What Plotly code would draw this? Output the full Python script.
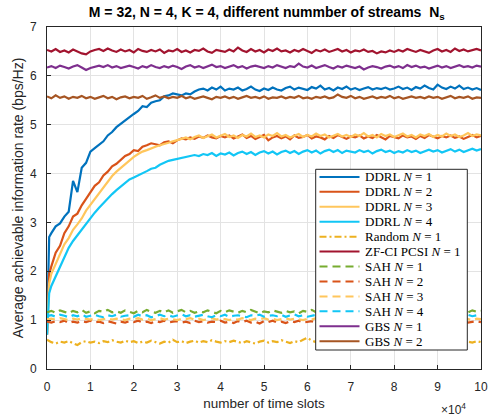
import plotly.graph_objects as go

# ---------------- data ----------------
x_flat = list(range(0, 100001, 1000))
x_ddrl = [0, 250, 500] + list(range(1000, 100001, 1000))

ddrl_n1 = [0.70, 1.90, 2.70,
           2.78, 2.92, 2.98, 3.12, 3.22, 3.85, 3.62, 4.12, 4.22, 4.45,
           4.52, 4.60, 4.66, 4.78, 4.85, 4.95, 5.02, 5.08, 5.15, 5.22,
           5.28, 5.38, 5.36, 5.45, 5.48, 5.50, 5.58, 5.60, 5.64, 5.62,
           5.60, 5.64, 5.62, 5.68, 5.72, 5.74, 5.70, 5.76, 5.72, 5.78,
           5.70, 5.74, 5.72, 5.76, 5.70, 5.73, 5.78, 5.72, 5.69, 5.74,
           5.71, 5.76, 5.72, 5.70, 5.75, 5.78, 5.72, 5.76, 5.73, 5.71,
           5.77, 5.74, 5.80, 5.72, 5.75, 5.70, 5.76, 5.73, 5.78, 5.72,
           5.75, 5.71, 5.74, 5.77, 5.72, 5.75, 5.73, 5.76, 5.72, 5.74,
           5.78, 5.73, 5.76, 5.71, 5.77, 5.74, 5.80, 5.75, 5.72, 5.82,
           5.76, 5.73, 5.78, 5.74, 5.80, 5.73, 5.76, 5.72, 5.75, 5.71]

ddrl_n2 = [0.70, 1.50, 1.95,
           2.10, 2.38, 2.52, 2.78, 2.92, 3.12, 3.18, 3.35, 3.48, 3.62,
           3.75, 3.82, 3.96, 4.04, 4.15, 4.20, 4.28, 4.36, 4.40, 4.48,
           4.46, 4.55, 4.58, 4.62, 4.60, 4.58, 4.64, 4.66, 4.62, 4.68,
           4.72, 4.70, 4.74, 4.71, 4.76, 4.73, 4.78, 4.74, 4.72, 4.77,
           4.74, 4.78, 4.72, 4.76, 4.80, 4.73, 4.77, 4.71, 4.75, 4.79,
           4.68, 4.74, 4.77, 4.72, 4.76, 4.70, 4.78, 4.73, 4.75, 4.79,
           4.72, 4.76, 4.74, 4.70, 4.77, 4.73, 4.79, 4.75, 4.71, 4.76,
           4.74, 4.78, 4.72, 4.76, 4.73, 4.79, 4.74, 4.70, 4.77, 4.75,
           4.72, 4.78, 4.74, 4.76, 4.71, 4.77, 4.73, 4.79, 4.75, 4.72,
           4.77, 4.74, 4.78, 4.73, 4.76, 4.71, 4.75, 4.79, 4.74, 4.77]

ddrl_n3 = [0.70, 1.40, 1.75,
           1.95, 2.15, 2.36, 2.55, 2.68, 2.85, 2.96, 3.08, 3.24, 3.36,
           3.48, 3.58, 3.72, 3.84, 3.95, 4.04, 4.12, 4.20, 4.28, 4.34,
           4.40, 4.45, 4.48, 4.52, 4.55, 4.58, 4.60, 4.63, 4.66, 4.68,
           4.71, 4.74, 4.70, 4.75, 4.78, 4.73, 4.76, 4.80, 4.74, 4.77,
           4.81, 4.75, 4.78, 4.73, 4.79, 4.76, 4.82, 4.75, 4.78, 4.74,
           4.80, 4.77, 4.83, 4.76, 4.79, 4.74, 4.78, 4.81, 4.75, 4.79,
           4.76, 4.82, 4.77, 4.80, 4.74, 4.78, 4.81, 4.76, 4.79, 4.75,
           4.80, 4.77, 4.83, 4.76, 4.79, 4.74, 4.81, 4.77, 4.80, 4.75,
           4.78, 4.82, 4.76, 4.79, 4.74, 4.80, 4.77, 4.81, 4.75, 4.79,
           4.76, 4.82, 4.77, 4.80, 4.75, 4.78, 4.83, 4.77, 4.80, 4.78]

ddrl_n4 = [0.70, 1.20, 1.55,
           1.70, 1.90, 2.10, 2.28, 2.48, 2.62, 2.74, 2.86, 2.98, 3.08,
           3.20, 3.30, 3.40, 3.50, 3.58, 3.66, 3.74, 3.80, 3.88, 3.92,
           3.96, 4.00, 4.05, 4.10, 4.12, 4.18, 4.22, 4.26, 4.28, 4.30,
           4.32, 4.34, 4.36, 4.38, 4.36, 4.40, 4.38, 4.42, 4.36, 4.41,
           4.39, 4.43, 4.37, 4.42, 4.45, 4.40, 4.44, 4.38, 4.43, 4.46,
           4.41, 4.45, 4.39, 4.44, 4.47, 4.42, 4.46, 4.40, 4.45, 4.48,
           4.43, 4.47, 4.41, 4.46, 4.49, 4.44, 4.48, 4.42, 4.47, 4.45,
           4.43, 4.48, 4.44, 4.47, 4.41, 4.46, 4.49, 4.44, 4.47, 4.42,
           4.46, 4.43, 4.48, 4.44, 4.47, 4.42, 4.46, 4.49, 4.45, 4.48,
           4.43, 4.47, 4.50, 4.45, 4.49, 4.44, 4.48, 4.51, 4.47, 4.50]

random_n1 = [0.60, 0.55, 0.52, 0.56, 0.54, 0.57, 0.53, 0.49, 0.55, 0.57,
             0.54, 0.56, 0.53, 0.57, 0.55, 0.59, 0.56, 0.54, 0.58, 0.55,
             0.57, 0.53, 0.56, 0.54, 0.58, 0.55, 0.52, 0.56, 0.54, 0.60,
             0.55, 0.57, 0.53, 0.56, 0.58, 0.54, 0.57, 0.55, 0.59, 0.56,
             0.54, 0.57, 0.55, 0.58, 0.56, 0.53, 0.57, 0.55, 0.52, 0.56,
             0.58, 0.54, 0.57, 0.55, 0.59, 0.56, 0.53, 0.57, 0.55, 0.60,
             0.64, 0.58, 0.55, 0.57, 0.54, 0.58, 0.56, 0.53, 0.57, 0.55,
             0.58, 0.54, 0.56, 0.59, 0.55, 0.57, 0.53, 0.56, 0.58, 0.55,
             0.57, 0.54, 0.56, 0.52, 0.57, 0.55, 0.58, 0.54, 0.56, 0.59,
             0.55, 0.57, 0.53, 0.56, 0.58, 0.55, 0.52, 0.56, 0.54, 0.57,
             0.55]

zfci_n1 = [6.53, 6.50, 6.55, 6.49, 6.52, 6.48, 6.54, 6.50, 6.46, 6.44,
           6.50, 6.53, 6.55, 6.51, 6.56, 6.52, 6.49, 6.54, 6.50, 6.53,
           6.48, 6.55, 6.51, 6.49, 6.53, 6.50, 6.54, 6.47, 6.52, 6.50,
           6.55, 6.49, 6.52, 6.48, 6.53, 6.51, 6.56, 6.50, 6.47, 6.53,
           6.51, 6.49, 6.54, 6.50, 6.58, 6.52, 6.49, 6.55, 6.50, 6.53,
           6.48, 6.54, 6.51, 6.56, 6.50, 6.52, 6.48, 6.53, 6.50, 6.55,
           6.51, 6.47, 6.53, 6.50, 6.54, 6.49, 6.52, 6.55, 6.50, 6.53,
           6.48, 6.52, 6.50, 6.54, 6.49, 6.51, 6.46, 6.50, 6.48, 6.52,
           6.49, 6.53, 6.50, 6.55, 6.52, 6.49, 6.53, 6.50, 6.47, 6.52,
           6.55, 6.50, 6.53, 6.49, 6.56, 6.51, 6.54, 6.50, 6.53, 6.55,
           6.52]

sah_n1 = [1.16, 1.19, 1.15, 1.20, 1.17, 1.14, 1.19, 1.16, 1.21, 1.15,
          1.18, 1.14, 1.19, 1.17, 1.21, 1.16, 1.18, 1.15, 1.20, 1.17,
          1.14, 1.19, 1.16, 1.21, 1.17, 1.15, 1.19, 1.16, 1.20, 1.15,
          1.18, 1.21, 1.16, 1.19, 1.15, 1.18, 1.16, 1.20, 1.17, 1.14,
          1.19, 1.16, 1.20, 1.17, 1.15, 1.19, 1.16, 1.21, 1.17, 1.14,
          1.18, 1.16, 1.20, 1.17, 1.15, 1.19, 1.16, 1.18, 1.14, 1.19,
          1.17, 1.21, 1.16, 1.18, 1.15, 1.19, 1.17, 1.20, 1.16, 1.14,
          1.18, 1.16, 1.20, 1.17, 1.15, 1.19, 1.16, 1.21, 1.17, 1.15,
          1.19, 1.16, 1.18, 1.14, 1.19, 1.17, 1.20, 1.16, 1.18, 1.15,
          1.19, 1.17, 1.21, 1.16, 1.18, 1.14, 1.19, 1.16, 1.20, 1.17,
          1.19]

sah_n2 = [0.97, 0.95, 0.98, 0.96, 0.99, 0.94, 0.97, 0.95, 0.98, 0.96,
          0.99, 0.95, 0.97, 0.94, 0.98, 0.96, 0.93, 0.97, 0.95, 0.98,
          0.96, 0.99, 0.95, 0.97, 0.94, 0.98, 0.96, 0.99, 0.95, 0.97,
          0.98, 0.95, 0.97, 0.94, 0.99, 0.96, 0.98, 0.95, 0.97, 0.96,
          0.99, 0.95, 0.97, 0.94, 0.98, 0.96, 0.99, 0.95, 0.97, 0.93,
          0.98, 0.96, 0.99, 0.95, 0.97, 0.94, 0.98, 0.96, 0.99, 0.95,
          0.97, 0.98, 0.95, 0.97, 0.94, 0.99, 0.96, 0.98, 0.95, 0.97,
          0.96, 0.99, 0.95, 0.97, 0.94, 0.98, 0.96, 0.99, 0.95, 0.97,
          0.98, 0.95, 0.97, 0.94, 0.99, 0.96, 0.98, 0.95, 0.97, 0.96,
          0.99, 0.95, 0.97, 0.94, 0.98, 0.96, 0.99, 0.95, 0.97, 0.98,
          0.96]

sah_n3 = [1.02, 1.03, 1.01, 1.04, 1.02, 1.00, 1.03, 1.01, 1.04, 1.02,
          1.01, 1.03, 1.00, 1.02, 1.04, 1.01, 1.03, 1.02, 1.00, 1.03,
          1.02, 1.04, 1.01, 1.03, 1.00, 1.02, 1.04, 1.01, 1.03, 1.02,
          1.00, 1.03, 1.02, 1.04, 1.01, 1.03, 1.00, 1.02, 1.04, 1.01,
          1.03, 1.02, 1.00, 1.03, 1.01, 1.04, 1.02, 1.00, 1.03, 1.02,
          1.04, 1.01, 1.03, 1.00, 1.02, 1.04, 1.01, 1.03, 1.02, 1.00,
          1.03, 1.01, 1.04, 1.02, 1.00, 1.03, 1.02, 1.04, 1.01, 1.03,
          1.00, 1.02, 1.04, 1.01, 1.03, 1.02, 1.00, 1.03, 1.01, 1.04,
          1.02, 1.00, 1.03, 1.02, 1.04, 1.01, 1.03, 1.00, 1.02, 1.04,
          1.01, 1.03, 1.02, 1.00, 1.03, 1.01, 1.04, 1.02, 1.00, 1.03,
          1.02]

sah_n4 = [1.08, 1.10, 1.07, 1.11, 1.09, 1.06, 1.10, 1.08, 1.12, 1.07,
          1.09, 1.11, 1.08, 1.06, 1.10, 1.08, 1.11, 1.07, 1.09, 1.10,
          1.07, 1.11, 1.08, 1.10, 1.06, 1.09, 1.11, 1.08, 1.10, 1.07,
          1.09, 1.12, 1.08, 1.10, 1.07, 1.09, 1.11, 1.08, 1.06, 1.10,
          1.08, 1.11, 1.07, 1.09, 1.10, 1.08, 1.06, 1.10, 1.09, 1.11,
          1.07, 1.09, 1.10, 1.08, 1.11, 1.07, 1.09, 1.12, 1.08, 1.10,
          1.07, 1.09, 1.11, 1.08, 1.10, 1.06, 1.09, 1.11, 1.08, 1.10,
          1.07, 1.09, 1.12, 1.08, 1.10, 1.07, 1.09, 1.11, 1.08, 1.10,
          1.06, 1.09, 1.11, 1.08, 1.10, 1.07, 1.09, 1.12, 1.08, 1.10,
          1.07, 1.09, 1.11, 1.08, 1.10, 1.06, 1.09, 1.11, 1.08, 1.10,
          1.09]

gbs_n1 = [6.17, 6.20, 6.16, 6.21, 6.18, 6.15, 6.19, 6.22, 6.17, 6.12,
          6.16, 6.19, 6.21, 6.18, 6.22, 6.17, 6.20, 6.16, 6.19, 6.21,
          6.18, 6.15, 6.20, 6.17, 6.22, 6.18, 6.16, 6.20, 6.17, 6.21,
          6.18, 6.14, 6.19, 6.22, 6.17, 6.20, 6.16, 6.19, 6.23, 6.18,
          6.20, 6.16, 6.19, 6.22, 6.17, 6.20, 6.15, 6.19, 6.21, 6.18,
          6.16, 6.20, 6.17, 6.22, 6.19, 6.16, 6.20, 6.18, 6.25, 6.19,
          6.17, 6.21, 6.16, 6.19, 6.22, 6.18, 6.15, 6.20, 6.17, 6.21,
          6.18, 6.16, 6.19, 6.13, 6.17, 6.20, 6.18, 6.15, 6.19, 6.21,
          6.17, 6.20, 6.16, 6.22, 6.18, 6.21, 6.17, 6.19, 6.15, 6.18,
          6.21, 6.17, 6.20, 6.16, 6.19, 6.22, 6.18, 6.20, 6.17, 6.21,
          6.19]

gbs_n2 = [5.58, 5.54, 5.60, 5.55, 5.58, 5.53, 5.57, 5.55, 5.59, 5.54,
          5.57, 5.53, 5.56, 5.59, 5.54, 5.57, 5.52, 5.56, 5.58, 5.54,
          5.57, 5.55, 5.59, 5.53, 5.56, 5.60, 5.55, 5.58, 5.54, 5.57,
          5.55, 5.59, 5.54, 5.57, 5.53, 5.56, 5.58, 5.55, 5.52, 5.57,
          5.55, 5.58, 5.54, 5.57, 5.53, 5.56, 5.59, 5.55, 5.57, 5.54,
          5.58, 5.53, 5.56, 5.55, 5.58, 5.54, 5.57, 5.55, 5.59, 5.54,
          5.56, 5.53, 5.57, 5.55, 5.58, 5.54, 5.56, 5.62, 5.57, 5.55,
          5.59, 5.54, 5.57, 5.53, 5.56, 5.58, 5.54, 5.57, 5.55, 5.59,
          5.54, 5.57, 5.53, 5.56, 5.58, 5.55, 5.57, 5.54, 5.58, 5.55,
          5.57, 5.53, 5.56, 5.59, 5.54, 5.57, 5.55, 5.58, 5.53, 5.56,
          5.55]

x_tick_vals = list(range(0, 100001, 10000))
x_tick_text = ["0", "1", "2", "3", "4", "5", "6", "7", "8", "9", "10"]
y_tick_vals = [0, 1, 2, 3, 4, 5, 6, 7]

for arr in (ddrl_n1, ddrl_n2, ddrl_n3, ddrl_n4):
    assert len(arr) == len(x_ddrl), len(arr)
for arr in (random_n1, zfci_n1, sah_n1, sah_n2, sah_n3, sah_n4, gbs_n1, gbs_n2):
    assert len(arr) == len(x_flat), len(arr)

# ---------------- styling ----------------
C_BLUE = "#0072BD"
C_RED = "#D95319"
C_LYEL = "#FFC65C"
C_CYAN = "#12C6F5"
C_YEL = "#EDB120"
C_ZF = "#A2142F"
C_GRN = "#77AC30"
C_PUR = "#7E2F8E"
C_BRN = "#A65523"
DASH = "8px,5px"
DASHDOT = "7px,3px,2px,3px"

series = [
    ("DDRL <i>N</i> = 1", x_ddrl, ddrl_n1, C_BLUE, "solid"),
    ("DDRL <i>N</i> = 2", x_ddrl, ddrl_n2, C_RED, "solid"),
    ("DDRL <i>N</i> = 3", x_ddrl, ddrl_n3, C_LYEL, "solid"),
    ("DDRL <i>N</i> = 4", x_ddrl, ddrl_n4, C_CYAN, "solid"),
    ("Random <i>N</i> = 1", x_flat, random_n1, C_YEL, DASHDOT),
    ("ZF-CI PCSI <i>N</i> = 1", x_flat, zfci_n1, C_ZF, "solid"),
    ("SAH <i>N</i> = 1", x_flat, sah_n1, C_GRN, DASH),
    ("SAH <i>N</i> = 2", x_flat, sah_n2, C_RED, DASH),
    ("SAH <i>N</i> = 3", x_flat, sah_n3, C_LYEL, DASH),
    ("SAH <i>N</i> = 4", x_flat, sah_n4, C_CYAN, DASH),
    ("GBS <i>N</i> = 1", x_flat, gbs_n1, C_PUR, "solid"),
    ("GBS <i>N</i> = 2", x_flat, gbs_n2, C_BRN, "solid"),
]

fig = go.Figure()
for name, xs, ys, color, dash in series:
    fig.add_trace(go.Scatter(x=xs, y=ys, mode="lines", name=name, showlegend=False,
                             line=dict(color=color, width=2.2, dash=dash)))

SANS = "Liberation Sans, Arial, sans-serif"
SERIF = "Liberation Serif, serif"
axis_common = dict(
    showline=True, linecolor="#262626", linewidth=1, mirror=True,
    ticks="inside", ticklen=4, tickcolor="#262626",
    showgrid=True, gridcolor="#e3e3e3", gridwidth=1,
    zeroline=False, automargin=False,
    tickfont=dict(family=SANS, size=12, color="#262626"),
)

# Plot box in pixels (layout)
W, H = 494, 418
ML, MR, MT, MB = 47, 13, 27, 49
PW, PH = W - ML - MR, H - MT - MB

fig.update_layout(
    width=W, height=H,
    margin=dict(l=ML, r=MR, t=MT, b=MB),
    paper_bgcolor="white", plot_bgcolor="white",
    title=dict(text="<b>M = 32, N = 4, K = 4, different nummber of streams  N<sub>s</sub></b>",
               x=0.54, xanchor="center", y=0.972, yanchor="middle",
               font=dict(family=SANS, size=14, color="#000000")),
    xaxis=dict(range=[0, 100000], tickvals=x_tick_vals, ticktext=x_tick_text,
               ticklabelstandoff=7,
               title=dict(text="number of time slots", standoff=5,
                          font=dict(family=SANS, size=13.5, color="#262626")),
               **axis_common),
    yaxis=dict(range=[0, 7], tickvals=y_tick_vals, ticklabelstandoff=7,
               title=dict(text="Average achievable information rate (bps/Hz)", standoff=3,
                          font=dict(family=SANS, size=14, color="#262626")),
               **axis_common),
    showlegend=False,
)

# ---- legend box drawn in paper space (mimics MATLAB legend layout) ----
def px2paper_x(px):
    return (px - ML) / PW

def px2paper_y(py):
    return (H - MB - py) / PH

LEG_L, LEG_R, LEG_T, LEG_B = 315.7, 467.3, 169.3, 350.0
ROW0, ROW_H = 176.9, 14.94
SAMPLE_X0, SAMPLE_X1, TEXT_X = 319.5, 359.5, 362.5

fig.add_shape(type="rect", xref="paper", yref="paper",
              x0=px2paper_x(LEG_L), x1=px2paper_x(LEG_R),
              y0=px2paper_y(LEG_B), y1=px2paper_y(LEG_T),
              line=dict(color="#262626", width=1), fillcolor="white", layer="above")
for i, (name, xs, ys, color, dash) in enumerate(series):
    yy = px2paper_y(ROW0 + i * ROW_H)
    fig.add_shape(type="line", xref="paper", yref="paper",
                  x0=px2paper_x(SAMPLE_X0), x1=px2paper_x(SAMPLE_X1), y0=yy, y1=yy,
                  line=dict(color=color, width=2, dash=dash), layer="above")
    fig.add_annotation(text=name, xref="paper", yref="paper",
                       x=px2paper_x(TEXT_X), y=yy, xanchor="left", yanchor="middle",
                       showarrow=False, font=dict(family=SERIF, size=13, color="#000000"))

fig.add_annotation(text="×10<sup>4</sup>", xref="paper", yref="paper",
                   x=px2paper_x(468), y=px2paper_y(409), xanchor="right", yanchor="middle",
                   showarrow=False, font=dict(family=SANS, size=12, color="#262626"))

fig.write_html("out.html", config={"displayModeBar": False},
               post_script="document.body.style.margin='0px';document.body.style.overflow='hidden';")
